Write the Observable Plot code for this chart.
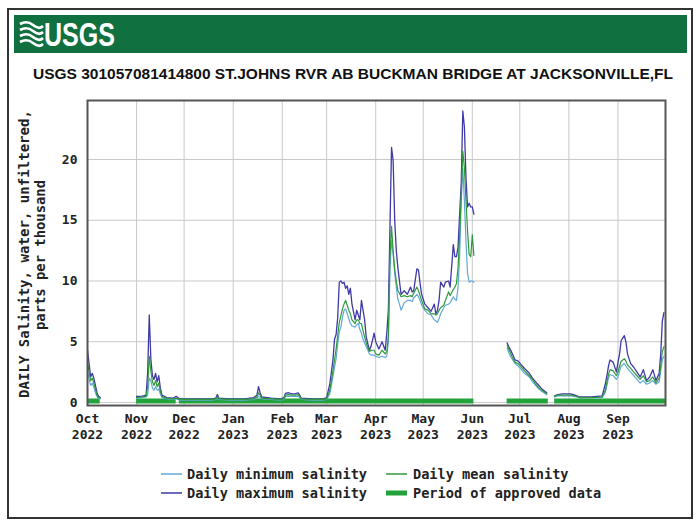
<!DOCTYPE html>
<html><head><meta charset="utf-8">
<script src="https://cdn.jsdelivr.net/npm/d3@7"></script>
<script src="https://cdn.jsdelivr.net/npm/@observablehq/plot@0.6"></script>
<style>
body{margin:0;background:#fff;}
#wrap{position:relative;width:700px;height:525px;background:#fff;overflow:hidden;}
#wrap svg{position:absolute;left:0;top:0;}
</style></head><body>
<div id="wrap"></div>
<script>
const dates = ["2022-10-01","2022-10-02","2022-10-03","2022-10-04","2022-10-05","2022-10-06","2022-10-07","2022-10-08","2022-10-09","2022-10-20",
"2022-11-01","2022-11-04","2022-11-07","2022-11-08","2022-11-09","2022-11-10","2022-11-11","2022-11-12","2022-11-13","2022-11-14","2022-11-15","2022-11-16","2022-11-17","2022-11-20","2022-11-24","2022-11-26","2022-11-28",
"2022-12-05","2022-12-12","2022-12-19","2022-12-21","2022-12-22","2022-12-23","2022-12-30",
"2023-01-08","2023-01-14","2023-01-16","2023-01-17","2023-01-18","2023-01-19","2023-01-25","2023-01-31",
"2023-02-02","2023-02-03","2023-02-05","2023-02-07","2023-02-09","2023-02-11","2023-02-12","2023-02-13","2023-02-20","2023-02-27",
"2023-03-01","2023-03-03","2023-03-05","2023-03-06","2023-03-07","2023-03-08","2023-03-09","2023-03-10","2023-03-11","2023-03-12","2023-03-13","2023-03-14","2023-03-15","2023-03-16","2023-03-17","2023-03-19","2023-03-20","2023-03-21","2023-03-22","2023-03-23","2023-03-24","2023-03-25","2023-03-26","2023-03-28","2023-03-29","2023-03-31",
"2023-04-01","2023-04-03","2023-04-05","2023-04-07","2023-04-08","2023-04-09","2023-04-10","2023-04-11","2023-04-12","2023-04-13","2023-04-14","2023-04-15","2023-04-16","2023-04-17","2023-04-19","2023-04-21","2023-04-23","2023-04-24","2023-04-25","2023-04-27","2023-04-28","2023-04-29","2023-04-30",
"2023-05-02","2023-05-04","2023-05-06","2023-05-08","2023-05-09","2023-05-10","2023-05-11","2023-05-12","2023-05-14","2023-05-15","2023-05-17","2023-05-18","2023-05-20","2023-05-21","2023-05-22","2023-05-23","2023-05-24","2023-05-25","2023-05-26","2023-05-27","2023-05-28","2023-05-29","2023-05-30","2023-05-31",
"2023-06-01","2023-06-02","2023-06-12",
"2023-06-23","2023-06-24","2023-06-26","2023-06-28","2023-06-30","2023-07-02","2023-07-04","2023-07-07","2023-07-09","2023-07-11","2023-07-13","2023-07-15","2023-07-18","2023-07-20",
"2023-07-23","2023-07-25","2023-07-28","2023-08-02","2023-08-04","2023-08-06","2023-08-08","2023-08-15","2023-08-22","2023-08-24","2023-08-25","2023-08-26","2023-08-27","2023-08-29","2023-08-31",
"2023-09-01","2023-09-02","2023-09-03","2023-09-05","2023-09-06","2023-09-07","2023-09-09","2023-09-11","2023-09-13","2023-09-15","2023-09-17","2023-09-19","2023-09-21","2023-09-23","2023-09-25","2023-09-27","2023-09-28","2023-09-29","2023-09-30"];

const maxSal = [4.3,3.2,2.1,2.4,2.0,1.4,0.8,0.5,0.4,NaN,
0.5,0.5,0.6,2.5,7.2,3.6,2.2,1.9,2.4,1.7,2.2,1.2,0.6,0.4,0.35,0.5,0.3,
0.3,0.3,0.3,0.35,0.65,0.35,0.3,
0.3,0.4,0.6,1.3,0.8,0.45,0.35,0.3,
0.4,0.75,0.8,0.7,0.7,0.8,0.6,0.35,0.3,0.3,
0.4,1.5,3.5,5.2,5.6,7.0,9.9,10.0,9.8,9.9,9.4,9.6,8.9,9.4,8.1,6.8,7.6,7.2,6.8,8.4,7.6,6.8,5.4,4.3,4.6,5.7,
5.0,4.4,5.0,4.3,5.7,7.6,14.4,21.0,19.9,15.0,12.5,11.1,10.0,8.9,9.2,8.9,9.5,9.1,9.2,11.0,10.9,9.8,8.9,
8.1,7.8,7.5,8.1,7.3,7.6,8.4,9.9,9.5,9.9,10.0,9.5,13.0,12.0,12.0,12.8,15.5,18.0,24.0,22.7,18.5,16.1,16.4,16.1,
16.1,15.5,NaN,
4.9,4.6,4.1,3.5,3.4,3.1,2.8,2.4,2.0,1.7,1.4,1.1,0.8,NaN,
0.55,0.65,0.7,0.7,0.65,0.55,0.45,0.45,0.55,1.5,2.2,3.0,3.5,3.3,2.5,
3.3,4.0,5.1,5.5,5.0,4.0,3.2,2.9,2.5,2.1,2.7,1.8,2.1,2.7,1.8,2.4,4.0,6.7,7.4];

const meanSal = [3.3,2.5,1.8,2.0,1.6,1.1,0.6,0.4,0.35,NaN,
0.4,0.45,0.5,1.3,3.8,2.6,1.7,1.4,1.8,1.3,1.6,0.9,0.5,0.35,0.3,0.35,0.25,
0.25,0.25,0.25,0.3,0.45,0.3,0.25,
0.25,0.3,0.45,0.8,0.6,0.35,0.3,0.25,
0.3,0.6,0.65,0.6,0.6,0.65,0.5,0.3,0.25,0.25,
0.3,1.0,2.6,3.5,4.4,5.5,6.6,7.1,7.7,8.1,8.4,8.0,7.6,7.3,6.8,6.5,6.8,6.8,6.5,6.5,5.9,5.4,4.9,4.2,4.3,4.3,
4.0,3.9,4.3,4.0,4.2,5.5,12.0,14.5,12.5,11.0,10.0,9.2,9.0,8.7,8.8,8.7,8.8,8.7,9.0,9.5,9.2,8.8,8.4,
7.7,7.6,7.3,7.3,7.2,7.3,7.6,7.8,8.0,8.4,9.1,8.8,9.3,9.5,9.8,11.1,13.9,17.0,20.7,19.3,16.6,14.1,12.2,12.0,
13.8,12.1,NaN,
4.7,4.4,3.8,3.3,3.2,2.9,2.6,2.2,1.9,1.5,1.2,1.0,0.7,NaN,
0.5,0.6,0.6,0.6,0.55,0.5,0.4,0.4,0.45,1.0,1.7,2.3,2.7,2.6,2.2,
2.5,3.0,3.4,3.6,3.4,3.1,2.8,2.5,2.2,1.9,2.2,1.7,1.8,2.1,1.6,2.0,3.0,4.2,4.6];

const minSal = [2.6,1.9,1.4,1.6,1.3,0.8,0.5,0.3,0.3,NaN,
0.35,0.4,0.45,0.6,2.0,1.8,1.2,1.0,1.3,1.0,1.1,0.7,0.4,0.3,0.25,0.3,0.2,
0.2,0.2,0.2,0.25,0.35,0.25,0.2,
0.2,0.25,0.35,0.5,0.4,0.3,0.25,0.2,
0.25,0.5,0.5,0.5,0.5,0.5,0.4,0.25,0.2,0.2,
0.25,0.7,2.1,2.9,3.6,4.8,5.8,6.2,7.0,7.6,7.7,7.3,6.9,6.5,6.3,6.2,6.4,6.5,6.0,5.7,5.2,4.9,4.6,4.0,3.9,3.9,
3.8,3.7,3.8,3.7,3.8,5.0,11.0,13.3,12.2,10.6,9.5,8.5,8.1,7.6,8.2,8.4,8.4,8.3,8.6,8.9,8.7,8.4,8.0,
7.6,7.3,7.2,6.8,6.7,6.6,6.9,7.3,7.8,8.0,8.1,8.2,8.7,8.5,8.4,9.5,12.0,16.6,19.3,16.6,13.3,10.6,9.9,10.0,
10.0,9.9,NaN,
4.5,4.1,3.6,3.2,3.0,2.7,2.4,2.1,1.7,1.4,1.1,0.9,0.65,NaN,
0.45,0.55,0.55,0.55,0.5,0.45,0.4,0.4,0.4,0.8,1.4,2.0,2.3,2.2,1.9,
2.1,2.6,3.0,3.2,3.0,2.8,2.5,2.2,1.9,1.6,1.8,1.5,1.6,1.8,1.5,1.7,2.6,3.5,3.8];

const approvedStart = ["2022-10-01","2022-11-01","2022-11-28","2023-06-23","2023-07-23"];
const approvedEnd   = ["2022-10-09","2022-11-26","2023-06-02","2023-07-19","2023-10-01"];

const monthTicks  = ["2022-10-01","2022-11-01","2022-12-01","2023-01-01","2023-02-01","2023-03-01","2023-04-01","2023-05-01","2023-06-01","2023-07-01","2023-08-01","2023-09-01"];
const monthLabels = ["Oct","Nov","Dec","Jan","Feb","Mar","Apr","May","Jun","Jul","Aug","Sep"];
const yearLabels  = ["2022","2022","2022","2023","2023","2023","2023","2023","2023","2023","2023","2023"];
const yTicks = [0,5,10,15,20];

const parse = d3.utcParse("%Y-%m-%d");
const table = dates.map((d,i)=>({date: parse(d), min: minSal[i], mean: meanSal[i], max: maxSal[i]}));
const approved = approvedStart.map((s,i)=>({start: parse(s), end: parse(approvedEnd[i])}));
const ticks = monthTicks.map((d,i)=>({date: parse(d), month: monthLabels[i], year: yearLabels[i]}));

const mono = "'DejaVu Sans Mono', monospace";
const chart = Plot.plot({
  width: 700, height: 525,
  marginLeft: 87, marginRight: 35, marginTop: 100, marginBottom: 120,
  style: {background: "transparent", overflow: "visible"},
  x: {type: "utc", domain: [parse("2022-10-01"), parse("2023-10-01")], axis: null},
  y: {domain: [-0.25, 24.86], axis: null},
  marks: [
    Plot.ruleX(ticks, {x: "date", stroke: "#c8c8c8", strokeWidth: 1}),
    Plot.ruleY(yTicks, {y: d => d, stroke: "#c8c8c8", strokeWidth: 1}),
    Plot.ruleY(approved, {x1: "start", x2: "end", y: () => 0.12, stroke: "#22a33c", strokeWidth: 5}),
    Plot.line(table, {x: "date", y: "max", stroke: "#3f3aa6", strokeWidth: 1.3}),
    Plot.line(table, {x: "date", y: "min", stroke: "#62a8d6", strokeWidth: 1.2}),
    Plot.line(table, {x: "date", y: "mean", stroke: "#2f9a3c", strokeWidth: 1.2}),
    Plot.frame({stroke: "#555", strokeWidth: 2}),
    Plot.text(ticks, {x: "date", text: "month", frameAnchor: "bottom", dy: 17, fontFamily: mono, fontWeight: "bold", fontSize: 13, fill: "#222"}),
    Plot.text(ticks, {x: "date", text: "year", frameAnchor: "bottom", dy: 33, fontFamily: mono, fontWeight: "bold", fontSize: 13, fill: "#222"}),
    Plot.text(yTicks, {y: d => d, text: d => String(d), frameAnchor: "left", dx: -10, textAnchor: "end", fontFamily: mono, fontWeight: "bold", fontSize: 13, fill: "#222"})
  ]
});
document.getElementById("wrap").appendChild(chart);

const overlay = `
<svg width="700" height="525" xmlns="http://www.w3.org/2000/svg" style="pointer-events:none">
  <rect x="8" y="9" width="684" height="509" fill="none" stroke="#333" stroke-width="2"/>
  <rect x="14" y="15" width="673" height="38" fill="#11703f"/>
  <g fill="none" stroke="#fff" stroke-width="2.6">
    <path d="M20 24 Q27 20 33 25 T43 26"/>
    <path d="M20 30 Q27 26 33 31 T43 32"/>
    <path d="M20 36 Q27 32 33 37 T43 38"/>
    <path d="M20 42 Q27 38 33 43 T43 44"/>
  </g>
  <text x="44" y="46" fill="#fff" font-family="'Liberation Sans Narrow','Arial Narrow',sans-serif" font-weight="bold" font-size="33" textLength="71" lengthAdjust="spacingAndGlyphs">USGS</text>
  <text x="353" y="79" text-anchor="middle" fill="#111" font-family="'Liberation Sans Narrow','Arial Narrow',sans-serif" font-weight="bold" font-size="15.5">USGS 301057081414800 ST.JOHNS RVR AB BUCKMAN BRIDGE AT JACKSONVILLE,FL</text>
  <g font-family="'DejaVu Sans Mono', monospace" font-weight="bold" font-size="13.5" fill="#222">
    <text transform="translate(24,254) rotate(-90)" text-anchor="middle" dominant-baseline="central" textLength="288" lengthAdjust="spacingAndGlyphs">DAILY Salinity, water, unfiltered,</text>
    <text transform="translate(40,255) rotate(-90)" text-anchor="middle" dominant-baseline="central" textLength="150" lengthAdjust="spacingAndGlyphs">parts per thousand</text>
  </g>
  <g font-family="'DejaVu Sans Mono', monospace" font-weight="bold" font-size="13.6" fill="#222">
    <line x1="161" x2="182" y1="474" y2="474" stroke="#62a8d6" stroke-width="1.5"/>
    <text x="187" y="474" dominant-baseline="central">Daily minimum salinity</text>
    <line x1="386" x2="407" y1="474" y2="474" stroke="#2f9a3c" stroke-width="1.5"/>
    <text x="413" y="474" dominant-baseline="central">Daily mean salinity</text>
    <line x1="161" x2="182" y1="493" y2="493" stroke="#3f3aa6" stroke-width="1.5"/>
    <text x="187" y="493" dominant-baseline="central">Daily maximum salinity</text>
    <line x1="386" x2="407" y1="493" y2="493" stroke="#22a33c" stroke-width="5"/>
    <text x="413" y="493" dominant-baseline="central">Period of approved data</text>
  </g>
</svg>`;
document.getElementById("wrap").insertAdjacentHTML("beforeend", overlay);
</script>
</body></html>
